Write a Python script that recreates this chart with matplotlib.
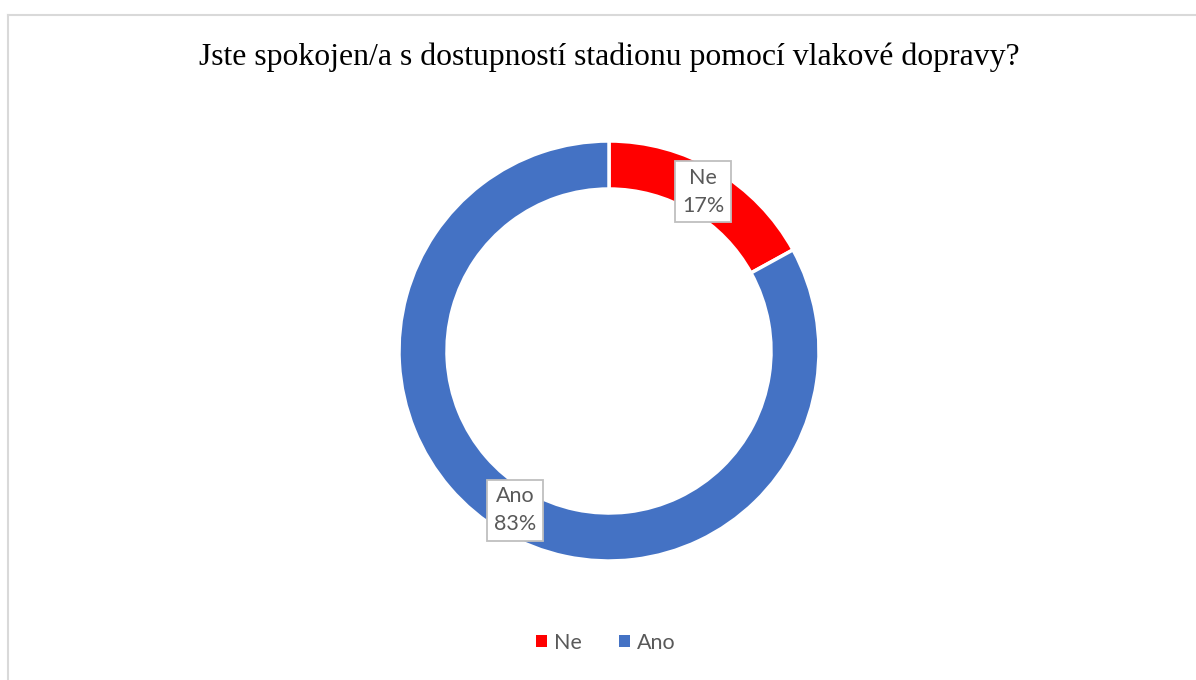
import numpy as np
import matplotlib.pyplot as plt
from matplotlib.lines import Line2D
from matplotlib.patches import Rectangle

title = "Jste spokojen/a s dostupností stadionu pomocí vlakové dopravy?"
labels = ["Ne", "Ano"]
shares = [17, 83]
colors = ["#FF0000", "#4472C4"]

W, H = 1196, 680
fig = plt.figure(figsize=(W / 100, H / 100), dpi=100)
fig.patch.set_facecolor("white")

# chart frame (top and left edges visible)
fig.add_artist(Line2D([8 / W, 1.0], [1 - 15 / H, 1 - 15 / H], color="#D9D9D9", lw=1.5))
fig.add_artist(Line2D([8 / W, 8 / W], [0, 1 - 15 / H], color="#D9D9D9", lw=1.5))

fig.text(609 / W, 1 - 57 / H, title, ha="center", va="center",
         fontsize=22.9, family="Liberation Serif", color="black")

# donut
cx, cy, r = 609, H - 351, 210
ax = fig.add_axes([(cx - r) / W, (cy - r) / H, 2 * r / W, 2 * r / H])
ax.axis("off")

wedges, _ = ax.pie(shares, colors=colors, startangle=90, counterclock=False,
                   radius=1.0, wedgeprops=dict(width=48 / 210, edgecolor="white", linewidth=2.5))
ax.set_xlim(-1, 1)
ax.set_ylim(-1, 1)
ax.set_aspect("equal")

total = sum(shares)
start = 90
for lab, val in zip(labels, shares):
    ang = np.deg2rad(start - 360 * val / total / 2)
    start -= 360 * val / total
    rr = 0.88
    ax.text(rr * np.cos(ang), rr * np.sin(ang), f"{lab}\n{val}%", ha="center", va="center",
            fontsize=15.5, family="Lato", color="#595959", linespacing=1.45,
            bbox=dict(boxstyle="square,pad=0.32", facecolor="white", edgecolor="#BFBFBF", lw=1.3))

# legend
handles = [Rectangle((0, 0), 1, 1, facecolor=c) for c in colors]
fig.legend(handles, labels, loc="center", bbox_to_anchor=(606 / W, 1 - 643 / H), ncol=2,
           frameon=False, handlelength=0.5, handleheight=0.5, handletextpad=0.35,
           columnspacing=1.7, prop=dict(family="Lato", size=15.5), labelcolor="#595959")

fig.savefig("out.png", dpi=100, facecolor="white")
